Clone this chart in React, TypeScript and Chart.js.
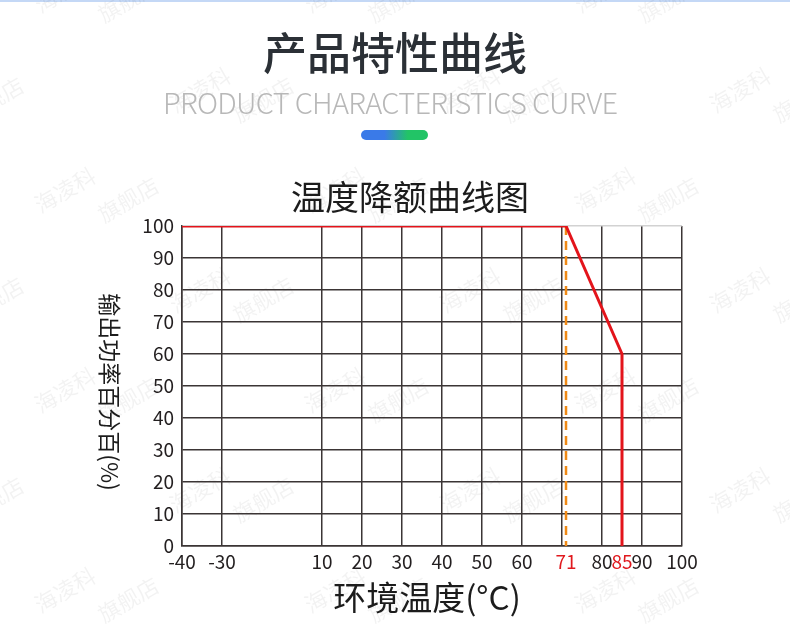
import React, { useEffect, useRef } from "react";
import { Chart, registerables } from "chart.js";

Chart.register(...registerables);

// ---- data ----
const tempC = [-40, 71, 85, 85];
const outputPct = [100, 100, 60, 0];
const deratingTempC = [71, 71];
const deratingPct = [100, 0];
const yTicks = [0, 10, 20, 30, 40, 50, 60, 70, 80, 90, 100];
const xTickTemps = [-40, -30, 10, 20, 30, 40, 50, 60, 70, 71, 80, 85, 90, 100];
const xTickLabels = ["-40", "-30", "10", "20", "30", "40", "50", "60", "", "71", "80", "85", "90", "100"];
const xRedLabels = ["71", "85"];

const mainTitle = "产品特性曲线";
const subTitle = "PRODUCT CHARACTERISTICS CURVE";
const chartTitle = "温度降额曲线图";
const xTitle = "环境温度(°C)";
const yTitle = "输出功率百分百(%)";
const watermarkLines = ["海凌科", "旗舰店"];

const FONT = '"Noto Sans CJK SC", "Noto Sans", sans-serif';
const GRID = "#3b3535";

// axis is compressed between -40 and 10
function axisPos(t: number): number {
  if (t >= 10) return t;
  if (t >= -30) return -15 + ((t + 30) * 25) / 40;
  return -25 + (t + 40);
}

const decorPlugin = {
  id: "decor",
  beforeDraw(chart: any) {
    const ctx = chart.ctx as CanvasRenderingContext2D;
    const W = chart.width;
    const H = chart.height;
    ctx.save();
    ctx.fillStyle = "#ffffff";
    ctx.fillRect(0, 0, W, H);
    ctx.fillStyle = "#c4d8f6";
    ctx.fillRect(0, 0, W, 2);

    // watermark
    ctx.fillStyle = "rgba(0,0,0,0.05)";
    ctx.font = `22px ${FONT}`;
    ctx.textAlign = "center";
    ctx.textBaseline = "middle";
    for (let r = 0; r < 8; r++) {
      for (let c = -1; c < 4; c++) {
        const x0 = 65 + c * 270 + (r % 2 ? 135 : 0);
        const y0 = -10 + r * 100;
        ctx.save();
        ctx.translate(x0, y0);
        ctx.rotate(-Math.PI / 6);
        ctx.fillText(watermarkLines[0], 0, 0);
        ctx.fillText(watermarkLines[1], 50, 40);
        ctx.restore();
      }
    }

    // header
    ctx.fillStyle = "#2b3036";
    ctx.font = `500 44px ${FONT}`;
    ctx.textAlign = "center";
    ctx.textBaseline = "middle";
    ctx.fillText(mainTitle, 395, 53);

    ctx.fillStyle = "#b8b8b8";
    ctx.font = `300 29px ${FONT}`;
    ctx.textAlign = "left";
    const target = 455;
    const natural = ctx.measureText(subTitle).width;
    const n = subTitle.length;
    const sp = (target - natural) / (n - 1);
    if ("letterSpacing" in ctx) {
      (ctx as any).letterSpacing = `${sp}px`;
      ctx.fillText(subTitle, 163, 103);
      (ctx as any).letterSpacing = "0px";
    } else {
      ctx.save();
      ctx.translate(163, 103);
      ctx.scale(target / natural, 1);
      ctx.fillText(subTitle, 0, 0);
      ctx.restore();
    }

    const g = ctx.createLinearGradient(361, 0, 428, 0);
    g.addColorStop(0, "#3a7ae8");
    g.addColorStop(0.35, "#3a7ae8");
    g.addColorStop(0.7, "#22c466");
    g.addColorStop(1, "#22c466");
    ctx.fillStyle = g;
    ctx.beginPath();
    (ctx as any).roundRect(361, 130, 67, 10, 5);
    ctx.fill();

    // chart title
    ctx.fillStyle = "#1c1c1c";
    ctx.font = `34px ${FONT}`;
    ctx.textAlign = "center";
    ctx.fillText(chartTitle, 410, 197);

    // x title
    ctx.font = `33px ${FONT}`;
    ctx.fillText(xTitle, 427, 597);

    // y title (rotated clockwise)
    ctx.save();
    ctx.translate(110, 392);
    ctx.rotate(Math.PI / 2);
    ctx.font = `23px ${FONT}`;
    ctx.fillText(yTitle, 0, 0);
    ctx.restore();

    ctx.restore();
  },
};

export default function App() {
  const ref = useRef<HTMLCanvasElement | null>(null);

  useEffect(() => {
    document.body.style.margin = "0";
    const canvas = ref.current;
    if (!canvas) return;
    const chart = new Chart(canvas, {
      type: "line",
      data: {
        datasets: [
          {
            label: "output",
            data: tempC.map((t, i) => ({ x: axisPos(t), y: outputPct[i] })),
            borderColor: "#e3141b",
            borderWidth: 3,
            pointRadius: 0,
            tension: 0,
            fill: false,
          },
          {
            label: "derating",
            data: deratingTempC.map((t, i) => ({ x: axisPos(t), y: deratingPct[i] })),
            borderColor: "#f08a16",
            borderWidth: 2.5,
            borderDash: [9, 6],
            pointRadius: 0,
            tension: 0,
            fill: false,
          },
        ],
      },
      options: {
        responsive: false,
        animation: false,
        devicePixelRatio: 1,
        layout: { padding: { left: 0, top: 226, right: 108, bottom: 0 } },
        plugins: {
          legend: { display: false },
          tooltip: { enabled: false },
          title: { display: false },
        },
        scales: {
          x: {
            type: "linear",
            min: -25,
            max: 100,
            afterBuildTicks: (scale: any) => {
              scale.ticks = xTickTemps.map((t) => ({ value: axisPos(t) }));
            },
            afterFit: (scale: any) => {
              scale.height = 79;
            },
            ticks: {
              autoSkip: false,
              maxRotation: 0,
              minRotation: 0,
              padding: 4,
              font: { family: FONT, size: 19 },
              color: (ctx: any) =>
                xRedLabels.includes(xTickLabels[ctx.index]) ? "#e0191e" : "#231f20",
              callback: (_v: any, i: number) => xTickLabels[i],
            },
            grid: {
              drawTicks: false,
              lineWidth: 1.5,
              color: (ctx: any) =>
                xRedLabels.includes(xTickLabels[ctx.index]) ? "rgba(0,0,0,0)" : GRID,
            },
            border: { display: true, color: GRID, width: 1.5 },
          },
          y: {
            type: "linear",
            min: 0,
            max: 100,
            afterBuildTicks: (scale: any) => {
              scale.ticks = yTicks.map((v) => ({ value: v }));
            },
            afterFit: (scale: any) => {
              scale.width = 182;
            },
            ticks: {
              padding: 8,
              font: { family: FONT, size: 19 },
              color: "#231f20",
              callback: (v: any) => String(v),
            },
            grid: {
              drawTicks: false,
              lineWidth: 1.5,
              color: (ctx: any) => (ctx.tick && ctx.tick.value === 100 ? "#d2d2d2" : GRID),
            },
            border: { display: true, color: GRID, width: 1.5 },
          },
        },
      },
      plugins: [decorPlugin],
    } as any);
    return () => chart.destroy();
  }, []);

  return (
    <div style={{ width: 790, height: 625, position: "relative" }}>
      <canvas ref={ref} width={790} height={625} style={{ display: "block" }} />
    </div>
  );
}
